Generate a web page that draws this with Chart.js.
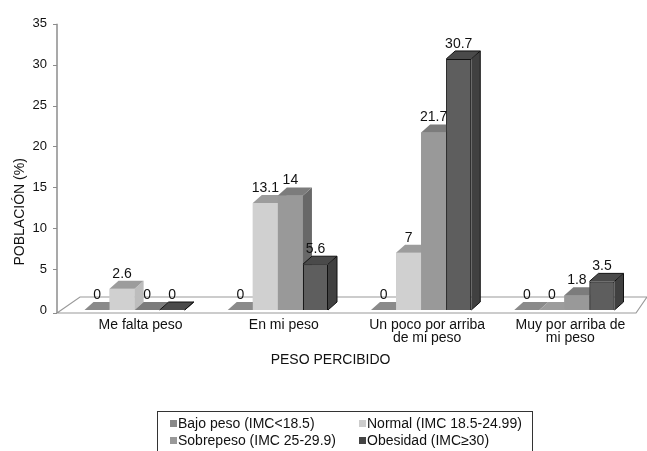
<!DOCTYPE html>
<html><head><meta charset="utf-8">
<script src="https://cdn.jsdelivr.net/npm/chart.js@4.4.0/dist/chart.umd.min.js"></script>
<style>html,body{margin:0;padding:0;background:#fff;overflow:hidden;} #wrap{width:647px;height:451px;position:relative;}</style>
</head><body><div id="wrap"><canvas id="c" width="647" height="451"></canvas></div>
<script>
const categories = [["Me falta peso"], ["En mi peso"], ["Un poco por arriba", "de mi peso"], ["Muy por arriba de", "mi peso"]];
const seriesNames = ["Bajo peso (IMC<18.5)", "Normal (IMC 18.5-24.99)", "Sobrepeso (IMC 25-29.9)", "Obesidad (IMC≥30)"];
const bajoPeso = [0, 0, 0, 0];
const normal = [2.6, 13.1, 7, 0];
const sobrepeso = [0, 14, 21.7, 1.8];
const obesidad = [0, 5.6, 30.7, 3.5];
const yTicks = [0, 5, 10, 15, 20, 25, 30, 35];
const yTitle = "POBLACIÓN (%)";
const xTitle = "PESO PERCIBIDO";

const FONT = "'Liberation Sans', Arial, sans-serif";
const styles = [
  {front: '#838383', top: '#8a8a8a', side: '#6e6e6e', border: '#8a8a8a', legend: '#8a8a8a'},
  {front: '#d0d0d0', top: '#9c9c9c', side: '#bdbdbd', border: '#e0e0e0', legend: '#cccccc'},
  {front: '#999999', top: '#7c7c7c', side: '#686868', border: '#a8a8a8', legend: '#999999'},
  {front: '#5e5e5e', top: '#4a4a4a', side: '#404040', border: '#111111', legend: '#444444'}
];
const DX = 9, DY = 8;

const seriesValues = [bajoPeso, normal, sobrepeso, obesidad];
const datasets = seriesValues.map((vals, i) => ({
  label: seriesNames[i],
  data: vals,
  backgroundColor: styles[i].front,
  borderColor: styles[i].border,
  borderWidth: i === 3 ? 1 : 0,
  categoryPercentage: 0.7,
  barPercentage: 1.0
}));

const floorPlugin = {
  id: 'floor',
  beforeDatasetsDraw(chart) {
    const {ctx, chartArea: a} = chart;
    ctx.save();
    ctx.beginPath();
    ctx.moveTo(a.left - 6, a.bottom + 3);
    ctx.lineTo(a.left + 17, a.bottom - 13);
    ctx.lineTo(a.right + 11, a.bottom - 13);
    ctx.lineTo(a.right, a.bottom + 3);
    ctx.closePath();
    ctx.fillStyle = '#ffffff';
    ctx.fill();
    ctx.strokeStyle = '#9a9a9a';
    ctx.lineWidth = 1.2;
    ctx.stroke();
    const ys = chart.scales.y;
    const ax = a.left - 6;
    ctx.beginPath();
    ctx.moveTo(ax, ys.getPixelForValue(yTicks[yTicks.length - 1]));
    ctx.lineTo(ax, a.bottom + 3);
    ctx.strokeStyle = '#8c8c8c';
    ctx.lineWidth = 1.5;
    ctx.stroke();
    ctx.lineWidth = 1;
    yTicks.forEach(v => {
      const py = Math.round(ys.getPixelForValue(v)) + 0.5 + (v === 0 ? 3 : 0);
      ctx.beginPath();
      ctx.moveTo(ax - 4, py);
      ctx.lineTo(ax, py);
      ctx.stroke();
    });
    ctx.restore();
  }
};

function drawExtrusion(ctx, el, idx) {
  const st = styles[idx];
  const {x, y, base, width} = el.getProps(['x', 'y', 'base', 'width'], true);
  const l = x - width / 2, r = x + width / 2;
  ctx.beginPath();
  ctx.moveTo(r, y);
  ctx.lineTo(r + DX, y - DY);
  ctx.lineTo(r + DX, base - DY);
  ctx.lineTo(r, base);
  ctx.closePath();
  ctx.fillStyle = st.side;
  ctx.fill();
  ctx.beginPath();
  ctx.moveTo(l, y);
  ctx.lineTo(l + DX, y - DY);
  ctx.lineTo(r + DX, y - DY);
  ctx.lineTo(r, y);
  ctx.closePath();
  ctx.fillStyle = st.top;
  ctx.fill();
  if (idx === 3) {
    ctx.strokeStyle = '#111';
    ctx.lineWidth = 1;
    ctx.beginPath();
    ctx.moveTo(l, y);
    ctx.lineTo(l + DX, y - DY);
    ctx.lineTo(r + DX, y - DY);
    ctx.lineTo(r + DX, base - DY);
    ctx.lineTo(r, base);
    ctx.moveTo(r, y);
    ctx.lineTo(r + DX, y - DY);
    ctx.stroke();
  }
}

const barsPlugin = {
  id: 'bars3d',
  afterDatasetsDraw(chart) {
    const {ctx} = chart;
    ctx.save();
    // redraw left-to-right so each bar's front covers its left neighbour's side
    chart.data.datasets.forEach((ds, i) => {
      const meta = chart.getDatasetMeta(i);
      meta.data.forEach(el => {
        el.draw(ctx);
        drawExtrusion(ctx, el, i);
      });
    });
    ctx.font = '14px ' + FONT;
    ctx.fillStyle = '#111';
    ctx.textAlign = 'center';
    ctx.textBaseline = 'middle';
    chart.data.datasets.forEach((ds, i) => {
      const meta = chart.getDatasetMeta(i);
      meta.data.forEach((el, j) => {
        const {x, y} = el.getProps(['x', 'y'], true);
        ctx.fillText(String(ds.data[j]), x, y - 15);
      });
    });
    ctx.restore();
  },
  afterDraw(chart) {
    const {ctx, chartArea: a} = chart;
    ctx.save();
    ctx.fillStyle = '#111';
    ctx.font = '14px ' + FONT;
    ctx.textAlign = 'center';
    ctx.textBaseline = 'middle';
    ctx.fillText(xTitle, a.left + (a.right - a.left) * 0.467, a.bottom + 50);
    ctx.save();
    ctx.translate(20, a.top + (a.bottom - a.top) * 0.657);
    ctx.rotate(-Math.PI / 2);
    ctx.fillText(yTitle, 0, 0);
    ctx.restore();
    const bx = 157, by = 411, bw = 375, bh = 60;
    ctx.strokeStyle = '#333';
    ctx.lineWidth = 1;
    ctx.strokeRect(bx + 0.5, by + 0.5, bw, bh);
    ctx.textAlign = 'left';
    const cols = [170, 359];
    const rows = [423, 440];
    chart.data.datasets.forEach((ds, i) => {
      const cx = cols[i % 2], cy = rows[Math.floor(i / 2)];
      ctx.fillStyle = styles[i].legend;
      ctx.fillRect(cx, cy - 3, 7, 7);
      ctx.fillStyle = '#111';
      ctx.fillText(ds.label, cx + 8, cy + 1);
    });
    ctx.restore();
  }
};

new Chart(document.getElementById('c'), {
  type: 'bar',
  data: {labels: categories, datasets},
  options: {
    responsive: false,
    animation: false,
    devicePixelRatio: 1,
    layout: {padding: {top: 17, right: 11, left: 0, bottom: 79}},
    plugins: {legend: {display: false}, tooltip: {enabled: false}},
    scales: {
      x: {
        grid: {display: false, drawTicks: false},
        border: {display: false},
        ticks: {
          color: '#111',
          font: {family: FONT, size: 14, lineHeight: 0.95},
          padding: 8,
          labelOffset: 6,
          maxRotation: 0,
          autoSkip: false
        },
        afterFit(scale) { scale.height = 62; }
      },
      y: {
        min: 0,
        max: 35,
        grid: {display: false, drawTicks: false},
        border: {display: false},
        afterBuildTicks(scale) { scale.ticks = yTicks.map(v => ({value: v})); },
        ticks: {
          color: '#111',
          font: {family: FONT, size: 13},
          padding: 16
        },
        afterFit(scale) { scale.width = 63; }
      }
    }
  },
  plugins: [floorPlugin, barsPlugin]
});
</script>
</body></html>
